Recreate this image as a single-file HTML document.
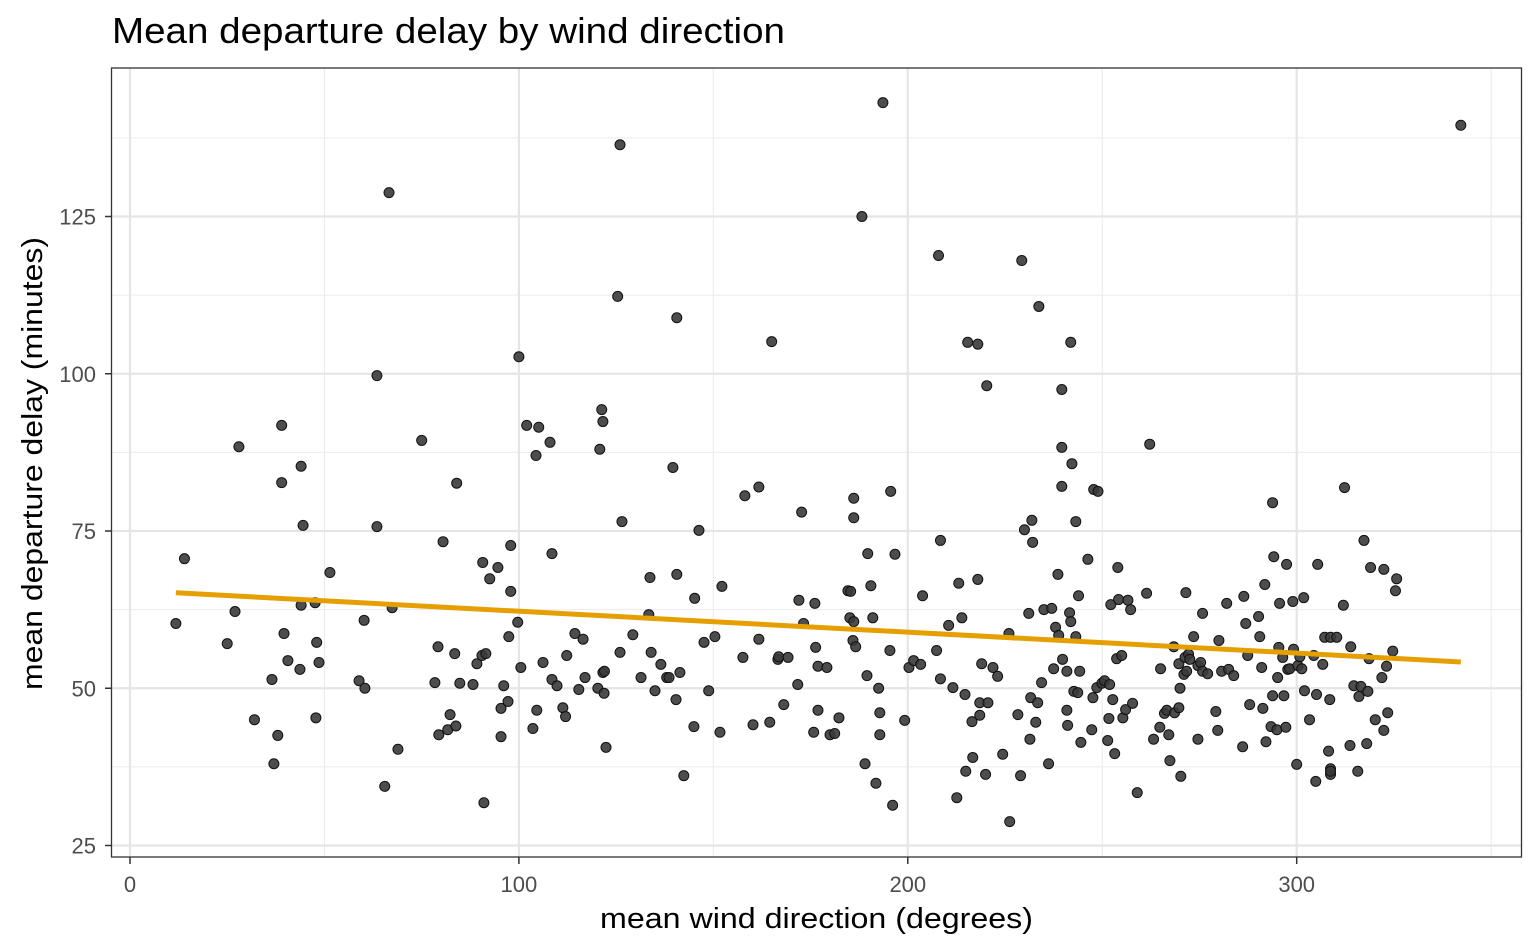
<!DOCTYPE html>
<html><head><meta charset="utf-8"><style>
html,body{margin:0;padding:0;background:#fff;}
svg{display:block;font-family:"Liberation Sans",Arial,sans-serif;}
</style></head><body>
<svg id="chart" width="1540" height="951" viewBox="0 0 1540 951" xmlns="http://www.w3.org/2000/svg">
<rect width="1540" height="951" fill="#fff"/>
<text x="112" y="43" font-size="36" textLength="673" lengthAdjust="spacingAndGlyphs" fill="#000">Mean departure delay by wind direction</text>
<g id="grid"></g>
<g id="points"></g>
<g id="fit"></g>
<rect x="111.5" y="68" width="1410" height="789" fill="none" stroke="#333" stroke-width="1.3"/>
<g id="axes"></g>
<text x="600" y="928" font-size="29" textLength="433" lengthAdjust="spacingAndGlyphs" fill="#000">mean wind direction (degrees)</text>
<text transform="translate(42,690) rotate(-90)" font-size="29" textLength="453" lengthAdjust="spacingAndGlyphs" fill="#000">mean departure delay (minutes)</text>
</svg>
<script>
const xTicks=[0,100,200,300];
const xMinor=[50,150,250,350];
const yTicks=[25,50,75,100,125];
const yMinor=[37.5,62.5,87.5,112.5,137.5];
const windDir=[11.8,14,25,27,28,32,36.5,37,38,39,39,39.6,40.6,43.7,44,44,44.5,47.6,47.8,48,48.6,51.4,58.9,60.2,60.4,63.5,63.5,65.5,66.6,67.4,68.9,75,78.4,79.2,79.4,80.5,81.7,82.3,83.8,83.5,84,84.8,88.2,89.2,90.5,90.7,91,91.5,92.5,94.6,95.4,95.4,96.1,97.2,97.4,97.9,97.9,99.7,100,100.5,102,103.6,104.4,104.6,105.1,106.2,108,108.5,108.5,109.8,111.3,112,112.3,114.4,115.4,116.5,117,120.3,120.8,121.3,121.6,121.6,121.9,122,122.4,125.4,126,126,126.5,129.3,131.4,133.4,133.7,134,135,136.5,138,138.6,139.6,140.4,140.6,140.6,141.4,142.4,145,145.2,146.3,147.6,148.8,150.4,151.7,152.2,157.6,158.1,160.2,161.7,161.7,164.5,165,166.6,166.8,168.1,169.2,171.7,172,172.7,173.2,175.8,176.1,176.3,176.9,176.9,179.2,180,181.2,182.3,184.6,185.1,185.3,185.9,186.1,186.1,186.6,186.1,188.2,189,189.5,189.7,190.5,191,191.8,192.5,192.8,192.8,193.6,195.4,195.6,196.1,196.7,199.2,200.3,201.5,203.3,203.8,207.4,207.9,208.4,208.4,210.5,211.6,212.6,213.1,213.9,214.7,214.9,215.4,216.5,216.7,218,218,218.5,218.5,219,220,220.3,220.6,221.9,223.1,224.4,226,226.2,228.3,229,229.3,230,231.1,231.4,231.6,231.9,232.1,232.9,233.4,233.7,234.4,235,236.2,237,237.5,238,238.6,238.8,239.6,239.6,239.6,239.8,240.9,240.9,241.1,241.6,241.9,242.2,241.9,242.7,243.2,243.2,243.7,243.9,244.2,244.5,246.3,247.3,247.6,247.8,248.9,248.6,249.9,250.6,251.4,251.7,251.9,252.2,252.7,253.2,253.7,254,254.2,255,255.3,256,256.6,257.3,257.8,259,261.4,262.2,263.2,264.8,265,266,266.6,267.1,267.4,268.4,268.6,269.7,269.7,270,270.2,271,271.3,271.5,271.7,272.2,272.5,273.5,274.6,274.6,275.3,275.8,275.8,277.1,279.2,279.7,280,280.7,282,282.5,283.8,286.1,286.4,286.9,287.4,287.9,290.2,290.5,291,291.3,291.8,292.1,293.4,293.8,293.8,294.1,294.9,295.1,295.4,295.6,296.4,296.7,297.2,297.4,297.7,298.2,299,299.2,300,300.3,300.8,301.3,301.8,302,303.3,304.4,304.9,305.1,305.4,306.7,307.2,308.2,308.5,308.7,308.7,308.7,308.7,310.3,312.3,312,313.7,313.9,314.7,315.7,316,316.5,317.3,318,318.3,318.6,319,320.2,321.9,322.4,322.4,323.1,323.4,324.7,325.4,325.7,342.2];
const depDelay=[60.3,70.6,57.1,62.2,88.4,45,51.4,38,42.5,91.8,82.7,58.7,54.4,53,63.2,85.3,75.9,63.6,45.3,57.3,54.1,68.4,51.2,60.8,50,99.7,75.7,34.4,128.8,62.8,40.3,89.4,50.9,56.6,42.6,73.3,43.4,45.8,44,55.5,82.6,50.8,50.6,53.9,55.2,70,31.8,55.5,67.4,69.2,42.3,46.8,50.4,47.9,58.2,65.4,72.7,60.5,102.7,53.3,91.8,43.6,87,46.5,91.5,54.1,89.1,71.4,51.4,50.4,46.9,45.5,55.2,58.7,49.8,57.8,51.7,50,88,94.3,92.4,52.5,49.2,52.7,40.6,112.3,136.4,55.7,76.5,58.5,51.7,61.7,67.6,55.7,49.6,53.8,51.7,51.7,85.1,48.2,68.1,108.9,52.5,36.1,43.9,64.3,75.1,57.3,49.6,58.2,43,66.2,54.9,80.6,44.2,57.8,82,44.6,105.1,54.6,55,47.4,54.9,50.6,64,78,60.3,43,63.5,56.5,46.5,53.5,53.3,42.6,42.8,45.3,65.5,61.2,65.4,57.6,77.1,80.2,56.6,60.6,125,38,52,71.4,66.3,61.2,34.9,50,46.1,42.6,143.1,56,81.3,31.4,71.3,44.9,53.3,54.4,53.8,64.7,56,118.8,73.5,51.5,60,50.1,32.6,66.7,61.2,49,36.8,105,44.7,39,104.7,67.3,47.7,45.7,53.9,36.3,98.1,47.7,53.3,51.9,39.5,58.7,28.8,45.8,36.1,118,75.2,61.9,41.9,48.5,76.7,73.2,44.6,47.7,110.7,50.9,62.5,38,62.7,53.1,59.7,68.1,58.4,97.5,88.3,82.1,54.6,46.5,52.7,44.1,62,105,85.7,60.6,49.5,76.5,58.2,49.3,64.7,52.7,41.4,70.5,43.4,48.5,81.6,81.3,50.1,50.8,51.2,41.7,45.2,50.6,63.3,48.2,39.6,54.7,69.2,64.1,55.2,45.3,46.6,64,62.5,47.6,33.4,65.1,88.8,41.9,43.8,53.1,46,46.5,42.6,38.5,56.6,46.1,46.9,53.9,50,36,52.2,54.9,65.2,52.7,55.4,54.6,58.2,41.9,53.6,54.1,52.7,61.9,52.3,46.3,43.3,57.6,52.7,63.5,53,52,40.7,64.6,60.3,55.2,47.4,61.4,58.2,53.3,46.8,66.5,41.5,43.9,79.5,48.8,70.9,43.4,51.7,56.5,63.5,54.9,48.8,43.8,69.7,53,53.1,63.8,56.2,37.9,53.6,55,53.1,64.4,49.6,45,55.2,35.2,49,69.7,53.8,58.1,40,48.2,58.1,36.3,37.2,36.8,58.1,81.9,63.2,40.9,56.6,50.4,36.8,48.7,50.3,73.5,41.2,49.5,54.7,69.2,45,51.7,68.9,43.3,53.5,46.1,55.9,65.5,67.4,139.5];

const NS='http://www.w3.org/2000/svg';
const X0=130, XS=3.889, Y0=845.5, YS=6.29;
const sx=v=>X0+v*XS;
const sy=v=>Y0-(v-25)*YS;
const L=112,R=1521,T=68,B=857;
function mk(tag,attrs,parent){const e=document.createElementNS(NS,tag);for(const k in attrs)e.setAttribute(k,attrs[k]);parent.appendChild(e);return e;}
const grid=document.getElementById('grid');
const axes=document.getElementById('axes');
xMinor.forEach(v=>{const e=mk('line',{x1:sx(v),x2:sx(v),y1:T,y2:B,stroke:'#ebebeb','stroke-width':1.1},grid);

});
yMinor.forEach(v=>{const e=mk('line',{x1:L,x2:R,y1:sy(v),y2:sy(v),stroke:'#ebebeb','stroke-width':1.1},grid);

});
xTicks.forEach(v=>{const e=mk('line',{x1:sx(v),x2:sx(v),y1:T,y2:B,stroke:'#e5e5e5','stroke-width':2.2},grid);


const t=mk('line',{x1:sx(v),x2:sx(v),y1:B,y2:B+7,stroke:'#333','stroke-width':1.5},axes);


const l=mk('text',{x:sx(v),y:892,'font-size':22,'text-anchor':'middle',fill:'#4d4d4d'},axes);
l.textContent=v;

});
yTicks.forEach(v=>{const e=mk('line',{x1:L,x2:R,y1:sy(v),y2:sy(v),stroke:'#e5e5e5','stroke-width':2.2},grid);


const t=mk('line',{x1:L-7,x2:L,y1:sy(v),y2:sy(v),stroke:'#333','stroke-width':1.5},axes);


const l=mk('text',{x:96,y:sy(v)+8,'font-size':22,'text-anchor':'end',fill:'#4d4d4d'},axes);
l.textContent=v;

});
const pts=document.getElementById('points');
const n=Math.min(windDir.length,depDelay.length);
for(let i=0;i<n;i++){const c=mk('circle',{cx:sx(windDir[i]),cy:sy(depDelay[i]),r:5,fill:'#3a3a3a','fill-opacity':0.9,stroke:'#111','stroke-width':1},pts);

}
let mx=0,my=0;for(let i=0;i<n;i++){mx+=windDir[i];my+=depDelay[i];}mx/=n;my/=n;
let sxy=0,sxx=0;for(let i=0;i<n;i++){sxy+=(windDir[i]-mx)*(depDelay[i]-my);sxx+=(windDir[i]-mx)**2;}
const b=sxy/sxx,a=my-b*mx;
const xmin=Math.min(...windDir.slice(0,n)),xmax=Math.max(...windDir.slice(0,n));
const fl=mk('line',{x1:sx(xmin),y1:sy(a+b*xmin),x2:sx(xmax),y2:sy(a+b*xmax),stroke:'#E69F00','stroke-width':5,'stroke-linecap':'butt'},document.getElementById('fit'));


</script>
</body></html>
